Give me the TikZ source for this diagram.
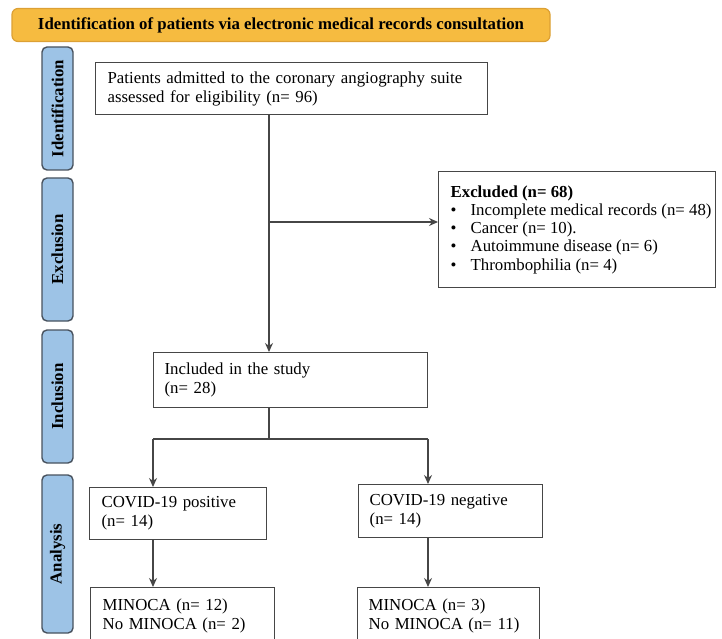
\documentclass[tikz,border=0pt]{standalone}
\usepackage{fontspec}
\setmainfont{Liberation Serif}
\usepackage{tikz}
\usetikzlibrary{arrows.meta}
\definecolor{bannerfill}{RGB}{246,187,64}
\definecolor{bannerline}{RGB}{220,160,52}
\definecolor{stagefill}{RGB}{157,195,230}
\definecolor{stageline}{RGB}{72,82,94}
\definecolor{boxline}{RGB}{70,70,70}
\tikzstyle{banner} = [rectangle, draw=bannerline, fill=bannerfill, rounded corners=6pt,
    line width=1.2pt, minimum width=538pt, minimum height=33pt, font=\bfseries]
\tikzstyle{stage} = [rectangle, draw=stageline, fill=stagefill, rounded corners=5pt,
    line width=1.4pt, minimum height=31pt, rotate=90, font=\bfseries]
\tikzstyle{fb} = [rectangle, draw=boxline, line width=1.3pt, align=left,
    anchor=north west, inner xsep=12pt]
\newcommand{\exitem}[1]{\hspace*{8pt}\makebox[20pt][l]{\textbullet}#1}

\begin{document}
\fontsize{16.8}{19}\selectfont
\begin{tikzpicture}[->,>={Stealth[length=9pt,width=8pt]},x=1pt,y=-1pt,line width=1.3pt,draw=boxline]

  \clip (0,0) rectangle (722,639);

  % heading and stage labels
  \node[banner] (head) at (281,25) {Identification of patients via electronic medical records consultation};
  \node[stage,minimum width=123pt] (sid) at (57.5,108.5) {Identification};
  \node[stage,minimum width=143pt] (sex) at (57.5,249.5) {Exclusion};
  \node[stage,minimum width=133pt] (sin) at (57.5,396.5) {Inclusion};
  \node[stage,minimum width=158pt] (san) at (57.5,554) {Analysis};

  % flow boxes
  \node[fb,text width=368pt,minimum height=52pt] (pat) at (95,62)
    {Patients admitted to the coronary angiography suite\\assessed for eligibility (n= 96)};
  \node[fb,minimum height=116pt,inner xsep=4pt,font=\fontsize{16.8}{18.2}\selectfont] (excl) at (438,171)
    {\hspace*{8pt}\textbf{Excluded (n= 68)}\\
     \exitem{Incomplete medical records (n= 48)}\\
     \exitem{Cancer (n= 10).}\\
     \exitem{Autoimmune disease (n= 6)}\\
     \exitem{Thrombophilia (n= 4)}};
  \node[fb,text width=252pt,minimum height=55pt,inner xsep=11pt] (inc) at (153,352)
    {Included in the study\\(n= 28)};
  \node[fb,text width=153pt,minimum height=52pt] (pos) at (89,487)
    {COVID-19 positive\\(n= 14)};
  \node[fb,text width=162pt,minimum height=53pt,inner xsep=11pt] (neg) at (358,484)
    {COVID-19 negative\\(n= 14)};
  \node[fb,text width=160pt,minimum height=56pt] (minl) at (90,587)
    {MINOCA (n= 12)\\No MINOCA (n= 2)};
  \node[fb,text width=160pt,minimum height=56pt,inner xsep=11pt] (minr) at (357,587)
    {MINOCA (n= 3)\\No MINOCA (n= 11)};

  % branch points
  \coordinate (split) at (269,222);
  \coordinate (fork) at (269,439);
  \coordinate (lbr) at (153,439);
  \coordinate (rbr) at (428,439);

  \path (split |- pat.south) edge (split |- inc.north)
  (split) edge (excl.west |- split)
  (fork |- inc.south) edge[-] (fork)
  (lbr) edge[-] (rbr)
  (lbr) edge (lbr |- pos.north)
  (rbr) edge (rbr |- neg.north)
  (lbr |- pos.south) edge (lbr |- minl.north)
  (rbr |- neg.south) edge (rbr |- minr.north);
\end{tikzpicture}
\end{document}
